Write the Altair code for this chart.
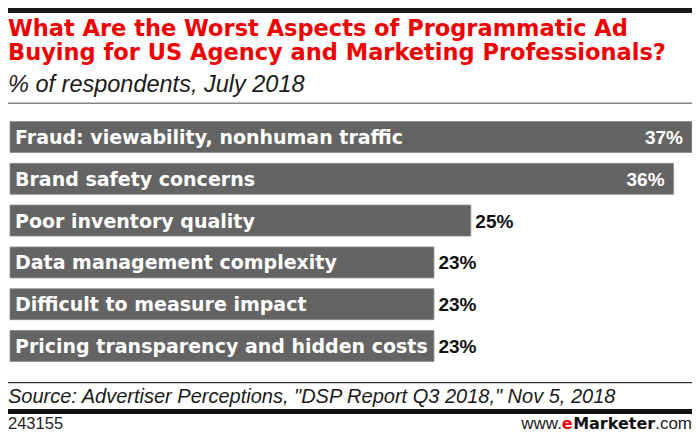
import altair as alt
import pandas as pd

categories = [
    "Fraud: viewability, nonhuman traffic",
    "Brand safety concerns",
    "Poor inventory quality",
    "Data management complexity",
    "Difficult to measure impact",
    "Pricing transparency and hidden costs",
]
values = [37, 36, 25, 23, 23, 23]

title_lines = [
    "What Are the Worst Aspects of Programmatic Ad",
    "Buying for US Agency and Marketing Professionals?",
]
subtitle = "% of respondents, July 2018"
source = 'Source: Advertiser Perceptions, "DSP Report Q3 2018," Nov 5, 2018'
chart_id = "243155"

W, H = 684, 425
RED = "#f00000"
BAR = "#646464"

df = pd.DataFrame({"category": categories, "value": values})
one = pd.DataFrame({"k": [0]})

xscale = alt.Scale(domain=[0, 37], range=[2, 684])
yscale = alt.Scale(range=[113.5, 353.5], paddingInner=0.26, paddingOuter=0)

X = alt.X("value:Q", scale=xscale, axis=None)
Y = alt.Y("category:N", sort=categories, scale=yscale, axis=None)

base = alt.Chart(df)

bars = base.mark_bar(color=BAR, stroke="#8c8c8c", strokeWidth=0.8).encode(x=X, y=Y)

cat_labels = base.mark_text(
    align="left", baseline="middle", font="DejaVu Sans", fontWeight="bold",
    fontSize=19, color="white", dy=1
).encode(x=alt.value(7), y=Y, text="category:N")

val_in = base.transform_filter(alt.datum.value > 30).transform_calculate(
    lab="datum.value + '%'"
).mark_text(
    align="right", baseline="middle", font="Liberation Sans", fontWeight="bold",
    fontSize=19, color="white", dx=-9, dy=1
).encode(x=X, y=Y, text="lab:N")

val_out = base.transform_filter(alt.datum.value <= 30).transform_calculate(
    lab="datum.value + '%'"
).mark_text(
    align="left", baseline="middle", font="Liberation Sans", fontWeight="bold",
    fontSize=19, color="#111111", dx=4.5, dy=1
).encode(x=X, y=Y, text="lab:N")


def band(y_top, y_bot, color):
    return alt.Chart(one).mark_rect(color=color, opacity=1).encode(
        x=alt.value(0), x2=alt.value(W), y=alt.value(y_top), y2=alt.value(y_bot)
    )


def txt(s, x, y, size, font="Liberation Sans", weight="normal", style="normal",
        color="#111111", align="left"):
    return alt.Chart(one).mark_text(
        text=s, align=align, baseline="alphabetic", font=font, fontSize=size,
        fontWeight=weight, fontStyle=style, color=color
    ).encode(x=alt.value(x), y=alt.value(y))


FY = 421.0
layers = [
    band(0, 5, "#1a1a1a"),
    txt(title_lines[0], 0, 27.5, 22.5, font="DejaVu Sans", weight="bold", color=RED),
    txt(title_lines[1], 0, 52, 22.5, font="DejaVu Sans", weight="bold", color=RED),
    txt(subtitle, 0, 84.2, 23.5, style="italic", color="#1a1a1a"),
    band(94.5, 96, "#858585"),
    bars, cat_labels, val_in, val_out,
    band(374, 375.3, "#333333"),
    txt(source, 0, 395.3, 20, style="italic", color="#1a1a1a"),
    band(401, 406, "#111111"),
    txt(chart_id, 0, FY, 16.5, color="#222222"),
    txt(".com", 684, FY, 17, color="#222222", align="right"),
    txt("Marketer", 647.2, FY, 16, font="DejaVu Sans", weight="bold",
        color="#111111", align="right"),
    txt("e", 564.7, FY, 16, font="DejaVu Sans", weight="bold", color=RED,
        align="right"),
    txt("www.", 553.9, FY, 17, color="#222222", align="right"),
]

chart = alt.layer(*layers).properties(
    width=W, height=H,
    autosize=alt.AutoSizeParams(type="none"),
    padding=0,
).configure_view(stroke=None)

chart.save("out.html", embed_options={"renderer": "svg", "actions": False})
